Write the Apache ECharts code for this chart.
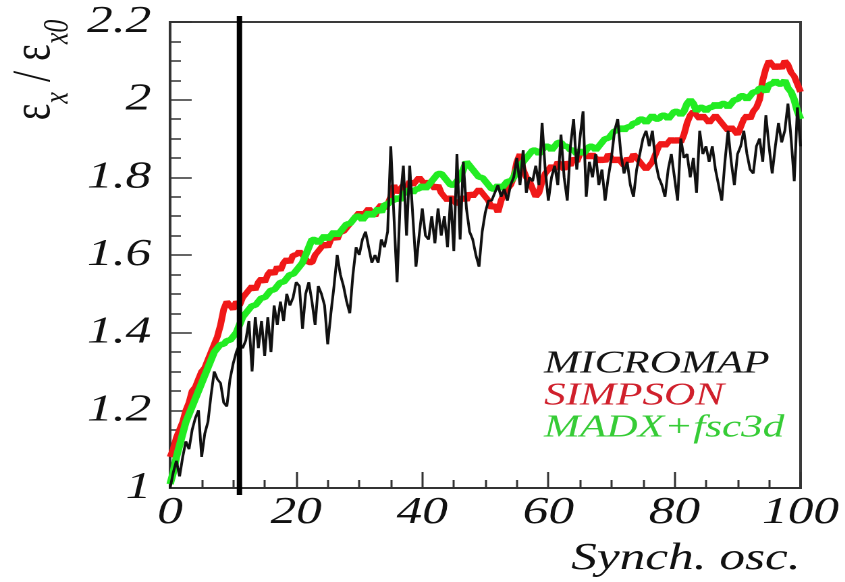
<!DOCTYPE html>
<html>
<head>
<meta charset="utf-8">
<script src="https://cdn.jsdelivr.net/npm/echarts@6/dist/echarts.min.js"></script>
<style>
  html, body { margin: 0; padding: 0; background: #fff; }
  #wrap { width: 845px; height: 582px; overflow: hidden; }
  /* the figure is drawn narrow and widened, like the printed plot */
  #chart { width: 626px; height: 582px; transform: scaleX(1.35); transform-origin: 0 0; }
</style>
</head>
<body>
<div id="wrap"><div id="chart"></div></div>
<script>
// Emittance growth vs. synchrotron oscillations, sampled every half oscillation
const synchOsc = Array.from({ length: 201 }, (_, i) => i / 2);

const micromap = [
  1.00,1.04,1.07,1.03,1.08,1.12,1.10,1.15,1.18,1.20,
  1.08,1.14,1.17,1.24,1.30,1.28,1.27,1.22,1.21,1.28,
  1.32,1.35,1.37,1.36,1.38,1.43,1.30,1.44,1.36,1.43,
  1.34,1.44,1.35,1.47,1.42,1.48,1.43,1.50,1.47,1.49,
  1.53,1.52,1.41,1.50,1.53,1.48,1.42,1.52,1.50,1.47,
  1.37,1.45,1.52,1.60,1.55,1.52,1.48,1.45,1.55,1.62,
  1.60,1.64,1.66,1.62,1.58,1.60,1.58,1.64,1.62,1.66,
  1.88,1.70,1.53,1.74,1.83,1.65,1.83,1.70,1.57,1.65,
  1.72,1.65,1.64,1.70,1.63,1.72,1.65,1.70,1.62,1.75,
  1.61,1.86,1.64,1.84,1.72,1.66,1.64,1.60,1.57,1.66,
  1.71,1.74,1.74,1.76,1.78,1.75,1.77,1.74,1.78,1.80,
  1.85,1.78,1.87,1.76,1.80,1.79,1.83,1.78,1.94,1.82,
  1.74,1.80,1.83,1.78,1.91,1.80,1.74,1.88,1.95,1.82,
  1.90,1.97,1.75,1.84,1.80,1.86,1.78,1.82,1.74,1.80,
  1.85,1.92,1.95,1.86,1.81,1.84,1.78,1.75,1.82,1.86,
  1.90,1.92,1.88,1.92,1.84,1.80,1.78,1.75,1.82,1.86,
  1.80,1.74,1.90,1.85,1.86,1.80,1.85,1.76,1.92,1.86,
  1.88,1.84,1.88,1.82,1.78,1.74,1.84,1.92,1.84,1.78,
  1.86,1.88,1.92,1.86,1.82,1.81,1.88,1.90,1.84,1.96,
  1.88,1.81,1.88,1.94,1.89,1.92,1.99,1.90,1.79,1.98,
  1.88
];

const simpson = [
  1.08,1.10,1.13,1.15,1.17,1.20,1.22,1.25,1.26,1.28,
  1.30,1.31,1.33,1.35,1.37,1.39,1.42,1.46,1.48,1.47,
  1.46,1.48,1.47,1.49,1.50,1.51,1.52,1.51,1.53,1.54,
  1.53,1.55,1.56,1.55,1.57,1.56,1.58,1.59,1.58,1.60,
  1.60,1.61,1.60,1.59,1.58,1.58,1.60,1.61,1.62,1.63,
  1.62,1.64,1.65,1.64,1.66,1.66,1.67,1.68,1.69,1.70,
  1.71,1.70,1.71,1.72,1.71,1.70,1.72,1.73,1.72,1.73,
  1.75,1.78,1.76,1.77,1.78,1.77,1.79,1.78,1.79,1.80,
  1.79,1.78,1.79,1.78,1.77,1.78,1.76,1.75,1.74,1.75,
  1.74,1.73,1.74,1.75,1.74,1.76,1.75,1.76,1.77,1.76,
  1.75,1.74,1.72,1.73,1.71,1.74,1.76,1.77,1.78,1.80,
  1.84,1.86,1.82,1.80,1.79,1.77,1.75,1.76,1.79,1.81,
  1.82,1.83,1.82,1.84,1.83,1.82,1.84,1.83,1.85,1.84,
  1.86,1.87,1.86,1.85,1.86,1.85,1.84,1.85,1.84,1.86,
  1.85,1.84,1.85,1.84,1.83,1.85,1.84,1.86,1.85,1.84,
  1.83,1.82,1.83,1.84,1.86,1.88,1.89,1.88,1.89,1.90,
  1.89,1.90,1.89,1.91,1.94,1.96,1.97,1.96,1.95,1.96,
  1.95,1.94,1.95,1.96,1.95,1.94,1.93,1.92,1.93,1.92,
  1.91,1.93,1.95,1.96,1.95,1.97,1.98,2.00,2.05,2.08,
  2.10,2.09,2.08,2.09,2.08,2.10,2.09,2.07,2.06,2.04,
  2.02
];

const madxFsc3d = [
  1.01,1.04,1.08,1.11,1.14,1.17,1.19,1.21,1.23,1.25,
  1.27,1.29,1.31,1.33,1.35,1.36,1.37,1.37,1.38,1.38,
  1.39,1.40,1.42,1.44,1.45,1.46,1.47,1.47,1.48,1.49,
  1.49,1.50,1.51,1.51,1.52,1.53,1.53,1.54,1.55,1.55,
  1.56,1.57,1.58,1.60,1.62,1.64,1.64,1.63,1.64,1.65,
  1.64,1.65,1.66,1.65,1.66,1.67,1.68,1.68,1.69,1.70,
  1.70,1.69,1.70,1.71,1.70,1.71,1.72,1.71,1.73,1.73,
  1.74,1.74,1.75,1.74,1.76,1.76,1.77,1.76,1.77,1.77,
  1.78,1.77,1.78,1.79,1.80,1.81,1.81,1.80,1.79,1.78,
  1.78,1.79,1.80,1.82,1.84,1.83,1.82,1.81,1.80,1.80,
  1.79,1.78,1.77,1.77,1.78,1.77,1.78,1.79,1.79,1.80,
  1.82,1.83,1.84,1.85,1.86,1.87,1.87,1.86,1.87,1.88,
  1.88,1.87,1.88,1.89,1.89,1.88,1.88,1.87,1.87,1.86,
  1.87,1.86,1.87,1.88,1.88,1.87,1.88,1.89,1.90,1.90,
  1.91,1.92,1.92,1.93,1.92,1.93,1.93,1.94,1.94,1.95,
  1.95,1.94,1.95,1.96,1.95,1.95,1.96,1.96,1.95,1.96,
  1.97,1.97,1.96,1.97,1.99,2.00,1.99,1.97,1.98,1.98,
  1.97,1.98,1.98,1.99,1.98,1.99,1.99,1.98,1.99,2.00,
  2.00,2.01,2.01,2.00,2.01,2.02,2.02,2.03,2.03,2.02,
  2.04,2.04,2.05,2.04,2.04,2.05,2.03,2.02,2.00,1.97,
  1.95
];

// vertical marker at the end of the injection phase
const markerX = [11];

const xTicks = { min: 0, max: 100, step: 20 };
const yTicks = { min: 1, max: 2.2, step: 0.2 };

const seriesNames = ['MICROMAP', 'SIMPSON', 'MADX+fsc3d'];
const seriesColors = ['#111111', '#f01818', '#22ec22'];
const legendColors = ['#151515', '#d0202c', '#36cc36'];

const serif = 'Liberation Serif';
const pairs = ys => synchOsc.map((x, i) => [x, ys[i]]);

const chart = echarts.init(document.getElementById('chart'), null, { renderer: 'canvas', devicePixelRatio: 2 });

chart.setOption({
  animation: false,
  backgroundColor: '#ffffff',
  grid: {
    left: 126, right: 33, top: 22, bottom: 94,
    containLabel: false, outerBoundsMode: 'none',
    show: true, borderColor: '#3a3a3a', borderWidth: 2, backgroundColor: 'transparent'
  },
  legend: {
    orient: 'vertical', left: 393, top: 343,
    icon: 'none', itemWidth: 0, itemHeight: 10, itemGap: 0,
    selectedMode: false,
    textStyle: { fontFamily: serif, fontStyle: 'italic', fontSize: 32 },
    data: seriesNames.map((n, i) => ({ name: n, textStyle: { color: legendColors[i], fontFamily: serif, fontStyle: 'italic', fontSize: 32 } }))
  },
  xAxis: {
    type: 'value', min: xTicks.min, max: xTicks.max, interval: xTicks.step,
    axisLine: { onZero: false, lineStyle: { color: '#333', width: 2 } },
    axisTick: { inside: true, length: 16, lineStyle: { color: '#333', width: 1.5 } },
    minorTick: { show: true, splitNumber: 4, length: 8, lineStyle: { color: '#333', width: 1.5 } },
    splitLine: { show: false },
    axisLabel: { color: '#111', fontFamily: serif, fontStyle: 'italic', fontSize: 38, margin: 6 },
    name: 'Synch. osc.', nameLocation: 'end', nameGap: 0,
    nameTextStyle: {
      color: '#111', fontFamily: serif, fontStyle: 'italic', fontSize: 38,
      align: 'right', verticalAlign: 'top', padding: [52, 0, 0, 0]
    }
  },
  yAxis: {
    type: 'value', min: yTicks.min, max: yTicks.max, interval: yTicks.step,
    axisLine: { onZero: false, lineStyle: { color: '#333', width: 2 } },
    axisTick: { inside: true, length: 16, lineStyle: { color: '#333', width: 1.5 } },
    minorTick: { show: true, splitNumber: 4, length: 8, lineStyle: { color: '#333', width: 1.5 } },
    splitLine: { show: false },
    axisLabel: { color: '#111', fontFamily: serif, fontStyle: 'italic', fontSize: 38, margin: 14 }
  },
  graphic: [{
    type: 'text', x: 26, y: 70, rotation: Math.PI / 2,
    style: {
      text: '{e|ε}{s|x}{e| / ε}{s|x0}',
      align: 'center', verticalAlign: 'middle', fill: '#111',
      rich: {
        e: { fontFamily: serif, fontSize: 40, lineHeight: 60, verticalAlign: 'middle', fill: '#111' },
        s: { fontFamily: serif, fontStyle: 'italic', fontSize: 26, lineHeight: 26, verticalAlign: 'bottom', fill: '#111' }
      }
    }
  }],
  series: [
    {
      name: seriesNames[1], type: 'line', data: pairs(simpson), showSymbol: false, z: 2,
      lineStyle: { color: seriesColors[1], width: 5 }, itemStyle: { color: seriesColors[1] }
    },
    {
      name: seriesNames[2], type: 'line', data: pairs(madxFsc3d), showSymbol: false, z: 3,
      lineStyle: { color: seriesColors[2], width: 5.5 }, itemStyle: { color: seriesColors[2] }
    },
    {
      name: seriesNames[0], type: 'line', data: pairs(micromap), showSymbol: false, z: 4,
      lineStyle: { color: seriesColors[0], width: 2 }, itemStyle: { color: seriesColors[0] }
    },
    {
      type: 'custom', name: 'marker', z: 6, silent: true, clip: false,
      data: markerX.map(x => [x, yTicks.min]),
      encode: { x: 0, y: 1 },
      renderItem: (params, api) => {
        const top = api.coord([api.value(0), yTicks.max]);
        const bottom = api.coord([api.value(0), yTicks.min]);
        return {
          type: 'line',
          shape: { x1: top[0], y1: top[1] - 6, x2: bottom[0], y2: bottom[1] + 7 },
          style: { stroke: '#000', lineWidth: 4 }
        };
      }
    }
  ]
});
</script>
</body>
</html>
